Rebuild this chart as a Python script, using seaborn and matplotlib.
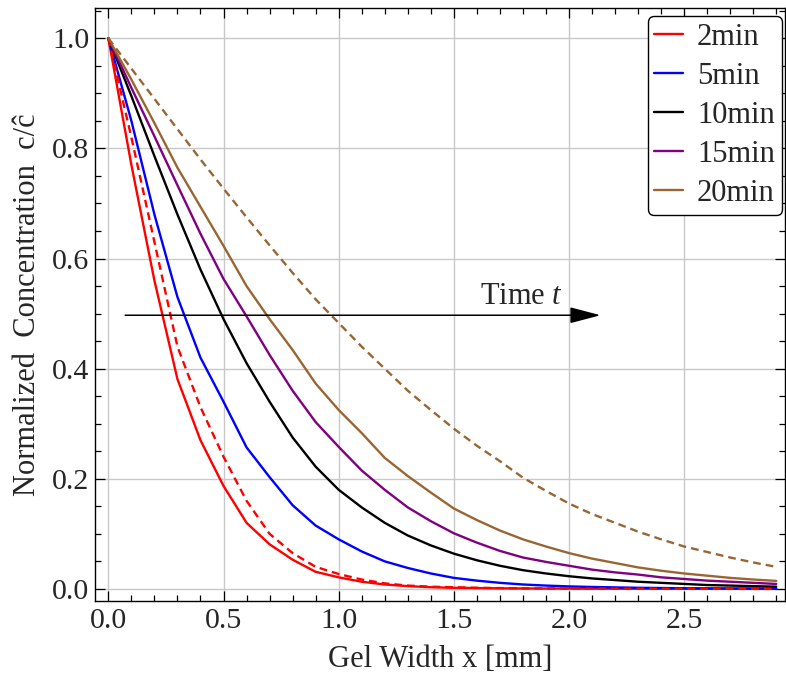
import numpy as np
import pandas as pd
import matplotlib
matplotlib.use("Agg")
import matplotlib.pyplot as plt
import seaborn as sns

# ---- data ----
x = [round(0.1 * i, 1) for i in range(30)]  # 0.0 ... 2.9

c2min = [1.0, 0.77, 0.56, 0.381, 0.27, 0.187, 0.12, 0.081, 0.053, 0.031,
         0.021, 0.013, 0.008, 0.005, 0.003, 0.002, 0.0015, 0.001, 0.0008, 0.0006,
         0.0005, 0.0004, 0.0003, 0.0002, 0.0002, 0.0001, 0.0001, 0.0001, 0.0, 0.0]
c2min_dash = [1.0, 0.82, 0.63, 0.44, 0.33, 0.24, 0.16, 0.10, 0.065, 0.040,
              0.027, 0.017, 0.010, 0.006, 0.004, 0.003, 0.002, 0.0015, 0.001, 0.0008,
              0.0006, 0.0005, 0.0004, 0.0003, 0.0002, 0.0002, 0.0001, 0.0001, 0.0001, 0.0]
c5min = [1.0, 0.85, 0.68, 0.53, 0.42, 0.34, 0.257, 0.203, 0.152, 0.115,
         0.090, 0.068, 0.050, 0.038, 0.028, 0.020, 0.015, 0.011, 0.008, 0.006,
         0.0045, 0.0035, 0.0027, 0.002, 0.0016, 0.0012, 0.001, 0.0008, 0.0006, 0.0005]
c10min = [1.0, 0.895, 0.786, 0.68, 0.58, 0.49, 0.41, 0.34, 0.275, 0.222,
          0.180, 0.148, 0.120, 0.097, 0.079, 0.064, 0.052, 0.042, 0.034, 0.028,
          0.023, 0.019, 0.016, 0.013, 0.011, 0.009, 0.007, 0.006, 0.005, 0.004]
c15min = [1.0, 0.91, 0.822, 0.733, 0.645, 0.563, 0.495, 0.425, 0.36, 0.303,
          0.258, 0.215, 0.180, 0.148, 0.123, 0.101, 0.084, 0.069, 0.057, 0.049,
          0.042, 0.035, 0.030, 0.026, 0.021, 0.018, 0.015, 0.013, 0.011, 0.009]
c20min = [1.0, 0.925, 0.846, 0.765, 0.694, 0.623, 0.55, 0.49, 0.434, 0.373,
          0.325, 0.283, 0.238, 0.205, 0.175, 0.146, 0.125, 0.106, 0.090, 0.077,
          0.065, 0.055, 0.047, 0.039, 0.033, 0.028, 0.024, 0.020, 0.017, 0.0145]
c20min_dash = [1.0, 0.945, 0.89, 0.835, 0.78, 0.727, 0.675, 0.624, 0.574, 0.526,
               0.483, 0.44, 0.40, 0.36, 0.325, 0.291, 0.26, 0.232, 0.202, 0.178,
               0.155, 0.136, 0.12, 0.104, 0.09, 0.077, 0.067, 0.057, 0.048, 0.040]

labels = ["2min", "5min", "10min", "15min", "20min"]
colors = ["#FF0000", "#0000FF", "#000000", "#800080", "#996633"]
xticks = [0.0, 0.5, 1.0, 1.5, 2.0, 2.5]
yticks = [0.0, 0.2, 0.4, 0.6, 0.8, 1.0]

# ---- figure ----
sns.set_style("ticks")
plt.rcParams["font.family"] = ["Liberation Serif", "DejaVu Serif"]
plt.rcParams["mathtext.fontset"] = "custom"
plt.rcParams["mathtext.it"] = "Liberation Serif:italic"
plt.rcParams["mathtext.rm"] = "Liberation Serif"

fig = plt.figure(figsize=(7.86, 6.82), dpi=100)
ax = fig.add_axes([95 / 786, 1 - 601 / 682, 690 / 786, 593 / 682])

lw = 1.7
for ys, lab, col in zip([c2min, c5min, c10min, c15min, c20min], labels, colors):
    sns.lineplot(x=x, y=ys, color=col, linewidth=lw, label=lab, ax=ax)

for ys, col in [(c2min_dash, colors[0]), (c20min_dash, colors[4])]:
    sns.lineplot(x=x, y=ys, color=col, linewidth=lw, ax=ax, legend=False)
    ax.lines[-1].set_dashes((3.3, 2.1))

ax.set_xlim(-0.058, 2.938)
ax.set_ylim(-0.022, 1.055)

ax.set_xticks(xticks)
ax.set_xticklabels([f"{v:.1f}" for v in xticks])
ax.set_yticks(yticks)
ax.set_yticklabels([f"{v:.1f}" for v in yticks])
ax.set_xticks(np.arange(0, 2.95, 0.1), minor=True)
ax.set_yticks(np.arange(0, 1.051, 0.05), minor=True)

ax.grid(True, which="major", color="#c8c8c8", linewidth=1.0)
ax.set_axisbelow(True)
ax.tick_params(which="both", direction="in", top=True, right=True,
               color="black", width=0.9)
ax.tick_params(which="major", length=7, labelsize=21.5)
ax.tick_params(axis="x", which="major", pad=5)
ax.tick_params(axis="y", which="major", pad=4)
ax.tick_params(which="minor", length=4)
for sp in ax.spines.values():
    sp.set_color("black")
    sp.set_linewidth(1.0)

ax.set_xlabel("Gel Width x [mm]", fontsize=22, labelpad=8)
ax.set_ylabel("Normalized  Concentration  c/ĉ", fontsize=22, labelpad=7)

# arrow + annotation
ax.annotate("", xy=(2.137, 0.497), xytext=(0.073, 0.497),
            arrowprops=dict(arrowstyle="-|>,head_length=1.9,head_width=0.5",
                            color="black", lw=1.1, shrinkA=0, shrinkB=0))
ax.text(1.612, 0.518, "Time $t$", fontsize=22, ha="left", va="baseline")

leg = ax.legend(loc="upper right", bbox_to_anchor=(0.9952, 0.9865), borderaxespad=0,
                fontsize=22, handlelength=0.95, handletextpad=0.45,
                labelspacing=0.33, frameon=True, fancybox=True,
                edgecolor="black", framealpha=1, borderpad=0.22)
leg.get_frame().set_linewidth(1.0)

fig.savefig("out.png", dpi=100)
